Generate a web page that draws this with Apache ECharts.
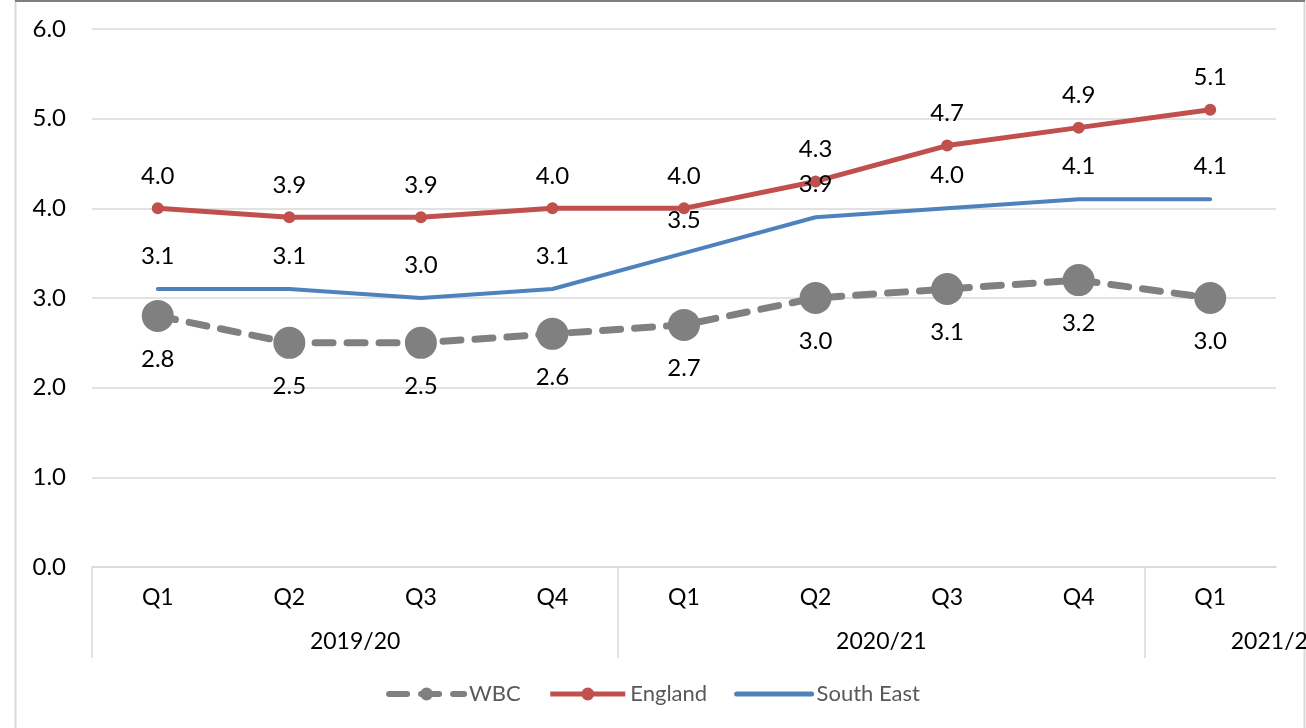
<!DOCTYPE html>
<html>
<head>
<meta charset="utf-8">
<script src="https://cdn.jsdelivr.net/npm/echarts@6/dist/echarts.min.js"></script>
<style>
  html, body { margin: 0; padding: 0; background: #fff; overflow: hidden; }
  #chart { width: 1306px; height: 728px; }
</style>
</head>
<body>
<div id="chart"></div>
<script>
// Quarterly rates, 2019/20 Q1 to 2021/22 Q1
const quarters = ['Q1', 'Q2', 'Q3', 'Q4', 'Q1', 'Q2', 'Q3', 'Q4', 'Q1'];
const yearGroups = ['2019/20', '2020/21', '2021/22'];
const yearGroupSizes = [4, 4, 1];

const wbc = [2.8, 2.5, 2.5, 2.6, 2.7, 3.0, 3.1, 3.2, 3.0];
const england = [4.0, 3.9, 3.9, 4.0, 4.0, 4.3, 4.7, 4.9, 5.1];
const southEast = [3.1, 3.1, 3.0, 3.1, 3.5, 3.9, 4.0, 4.1, 4.1];

const yTicks = [0, 1, 2, 3, 4, 5, 6];

// Group boundaries and label anchors on a 0..N scale aligned with the category bands
const groupStarts = [];
const groupLabelAt = [];
let acc = 0;
yearGroupSizes.forEach((n) => {
  groupStarts.push(acc);
  // a single-quarter group cannot hold its label, so anchor it at the group's end
  groupLabelAt.push(n > 1 ? acc + n / 2 : acc + n);
  acc += n;
});

const FONT = 'Lato, "Open Sans", sans-serif';
const fmt1 = v => Number(v).toFixed(1);

const chart = echarts.init(document.getElementById('chart'), null, { renderer: 'canvas', width: 1306, height: 728 });

chart.setOption({
  animation: false,
  backgroundColor: '#ffffff',
  textStyle: { fontFamily: FONT },
  graphic: [
    { type: 'rect', shape: { x: 15.5, y: 0.5, width: 1289, height: 740 },
      style: { fill: 'none', stroke: '#d9d9d9', lineWidth: 2 }, silent: true },
    { type: 'line', shape: { x1: 15, y1: 1, x2: 1305, y2: 1 },
      style: { stroke: '#7f7f7f', lineWidth: 2 }, silent: true }
  ],
  grid: { left: 92, right: 30, top: 29, bottom: 161, containLabel: false, outerBoundsMode: 'none' },
  legend: {
    bottom: 18,
    left: 'center',
    itemWidth: 75,
    itemHeight: 16,
    itemGap: 27,
    textStyle: { color: '#595959', fontSize: 22, fontFamily: FONT },
    data: [
      { name: 'WBC', lineStyle: { width: 6 } },
      { name: 'England', lineStyle: { width: 5 } },
      { name: 'South East', lineStyle: { width: 5 }, itemStyle: { opacity: 0 } }
    ]
  },
  xAxis: [
    {
      type: 'category',
      data: quarters,
      boundaryGap: true,
      position: 'bottom',
      axisLine: { show: true, lineStyle: { color: '#d9d9d9', width: 1.5 } },
      axisTick: { show: false },
      axisLabel: { color: '#000', fontSize: 23, margin: 19, fontFamily: FONT },
      splitLine: { show: false }
    },
    {
      type: 'value',
      min: 0,
      max: quarters.length,
      position: 'bottom',
      axisLine: { show: false },
      splitLine: { show: false },
      axisTick: {
        show: true,
        customValues: groupStarts,
        length: 91,
        lineStyle: { color: '#d9d9d9', width: 1.5 }
      },
      axisLabel: {
        show: true,
        customValues: groupLabelAt,
        margin: 63,
        color: '#000',
        fontSize: 23,
        fontFamily: FONT,
        formatter: v => {
          const i = groupLabelAt.indexOf(v);
          return i >= 0 ? yearGroups[i] : '';
        }
      }
    }
  ],
  yAxis: {
    type: 'value',
    min: yTicks[0],
    max: yTicks[yTicks.length - 1],
    interval: 1,
    axisLine: { show: false },
    axisTick: { show: false },
    axisLabel: { color: '#000', fontSize: 24, margin: 26, formatter: fmt1, fontFamily: FONT },
    splitLine: { lineStyle: { color: '#d9d9d9', width: 1.5 } }
  },
  series: [
    {
      name: 'WBC',
      type: 'line',
      data: wbc,
      symbol: 'circle',
      symbolSize: 32,
      itemStyle: { color: '#808080' },
      lineStyle: { color: '#808080', width: 7, type: [18, 14], cap: 'round' },
      label: { show: true, position: 'bottom', distance: 15, color: '#000',
               fontSize: 24, formatter: p => fmt1(p.value), fontFamily: FONT },
      z: 2
    },
    {
      name: 'England',
      type: 'line',
      data: england,
      symbol: 'circle',
      symbolSize: 12,
      itemStyle: { color: '#c0504d' },
      lineStyle: { color: '#c0504d', width: 5 },
      label: { show: true, position: 'top', distance: 14, color: '#000',
               fontSize: 24, formatter: p => fmt1(p.value), fontFamily: FONT },
      z: 3
    },
    {
      name: 'South East',
      type: 'line',
      data: southEast,
      symbol: 'circle',
      symbolSize: 0.1,
      itemStyle: { color: 'rgba(79,129,189,0)' },
      lineStyle: { color: '#4f81bd', width: 4, cap: 'round' },
      label: { show: true, position: 'top', distance: 21, color: '#000',
               fontSize: 24, formatter: p => fmt1(p.value), fontFamily: FONT },
      z: 4
    }
  ]
});
</script>
</body>
</html>
